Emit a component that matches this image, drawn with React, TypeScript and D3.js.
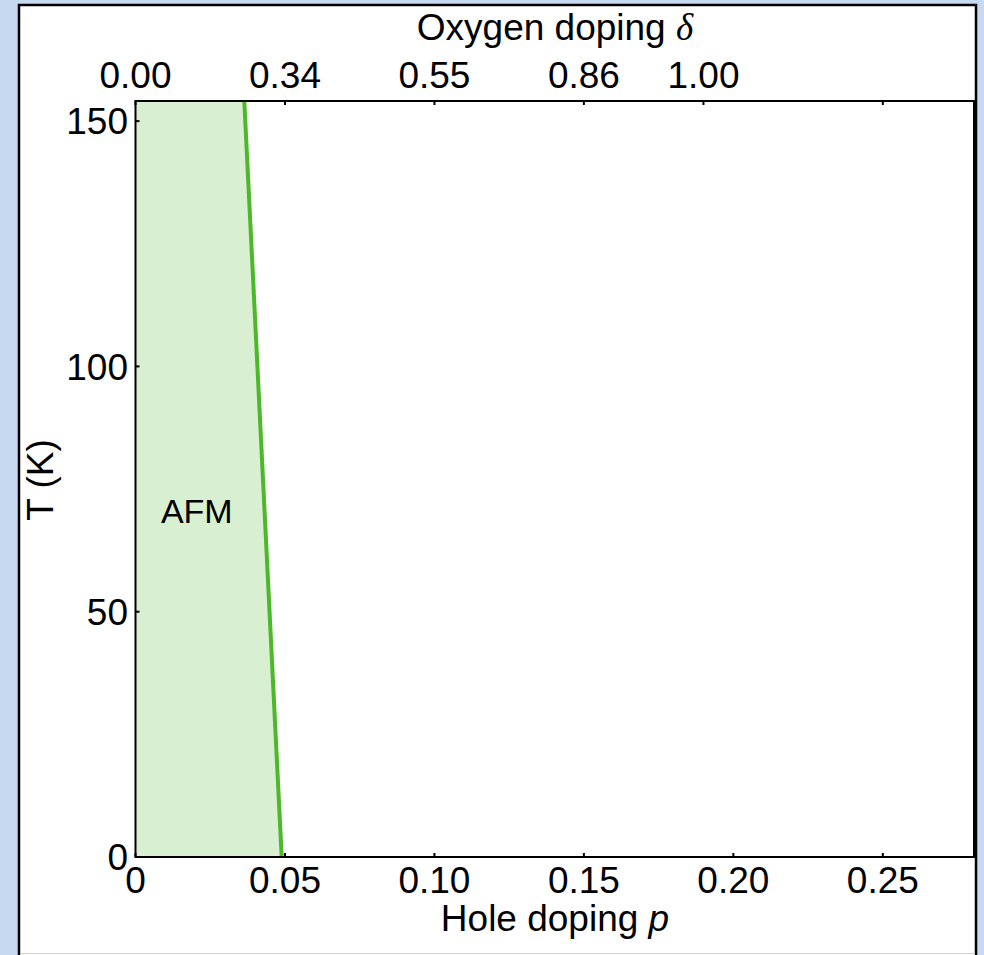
import React from "react";
import * as d3 from "d3";

// AFM boundary (hole doping p vs temperature T)
const boundaryP = [0.0489, 0.0364];
const boundaryT = [0, 154];

// bottom axis: hole doping p
const bottomTicks = [0, 0.05, 0.1, 0.15, 0.2, 0.25];
const bottomLabels = ["0", "0.05", "0.10", "0.15", "0.20", "0.25"];

// top axis: oxygen doping delta, placed at matching p
const topTickP = [0, 0.05, 0.1, 0.15, 0.19, 0.25];
const topLabels = ["0.00", "0.34", "0.55", "0.86", "1.00", ""];

const yTicks = [0, 50, 100, 150];
const yLabels = ["0", "50", "100", "150"];

const W = 984;
const H = 955;
const FONT = "Liberation Sans, Arial, sans-serif";

export default function App() {
  const left = 135.5, right = 974, top = 101, bottom = 857;
  const x = d3.scaleLinear().domain([0, 0.2805]).range([left, right]);
  const y = d3.scaleLinear().domain([0, 154.1]).range([bottom, top]);

  const pts: [number, number][] = boundaryP.map((p, i) => [p, boundaryT[i]]);
  const area = d3
    .area<[number, number]>()
    .x0(() => x(0))
    .x1((d) => x(d[0]))
    .y((d) => y(d[1]));
  const line = d3
    .line<[number, number]>()
    .x((d) => x(d[0]))
    .y((d) => y(d[1]));

  return (
    <svg
      width={W}
      height={H}
      style={{ position: "absolute", left: 0, top: 0 }}
      fontFamily={FONT}
    >
      <rect width={W} height={H} fill="#c6d9f1" />
      <rect x={19} y={5} width={957} height={960} fill="#fff" stroke="#000" strokeWidth={2.5} />
      <line x1={20} x2={975} y1={953.5} y2={953.5} stroke="#d0d0d0" strokeWidth={1} />

      <path d={area(pts) || ""} fill="#d9efd2" />
      <path d={line(pts) || ""} fill="none" stroke="#4cb82a" strokeWidth={4} />

      <rect x={left} y={top} width={right - left} height={bottom - top} fill="none" stroke="#000" strokeWidth={2} />

      {bottomTicks.map((t, i) => (
        <g key={"b" + i}>
          <line x1={x(t)} x2={x(t)} y1={bottom} y2={bottom - 4} stroke="#000" strokeWidth={2} />
          <text x={x(t)} y={893} fontSize={37} textAnchor="middle">
            {bottomLabels[i]}
          </text>
        </g>
      ))}

      {topTickP.map((t, i) => (
        <g key={"t" + i}>
          <line x1={x(t)} x2={x(t)} y1={top} y2={top + 4} stroke="#000" strokeWidth={2} />
          <text x={x(t)} y={88} fontSize={37} textAnchor="middle">
            {topLabels[i]}
          </text>
        </g>
      ))}

      {yTicks.map((t, i) => (
        <g key={"y" + i}>
          <line x1={left} x2={left + 4} y1={y(t)} y2={y(t)} stroke="#000" strokeWidth={2} />
          <text x={128} y={y(t)} dy="0.36em" fontSize={37} textAnchor="end">
            {yLabels[i]}
          </text>
        </g>
      ))}

      <text x={x(0.0205)} y={y(68)} fontSize={34} textAnchor="middle">
        AFM
      </text>

      <text x={555} y={40} fontSize={37} textAnchor="middle">
        Oxygen doping{" "}
        <tspan fontFamily="Liberation Serif, Times New Roman, serif" fontStyle="italic">
          δ
        </tspan>
      </text>
      <text x={555} y={931} fontSize={37} textAnchor="middle">
        Hole doping <tspan fontStyle="italic">p</tspan>
      </text>
      <text transform="translate(53,480) rotate(-90)" fontSize={37} textAnchor="middle">
        T (K)
      </text>
    </svg>
  );
}
